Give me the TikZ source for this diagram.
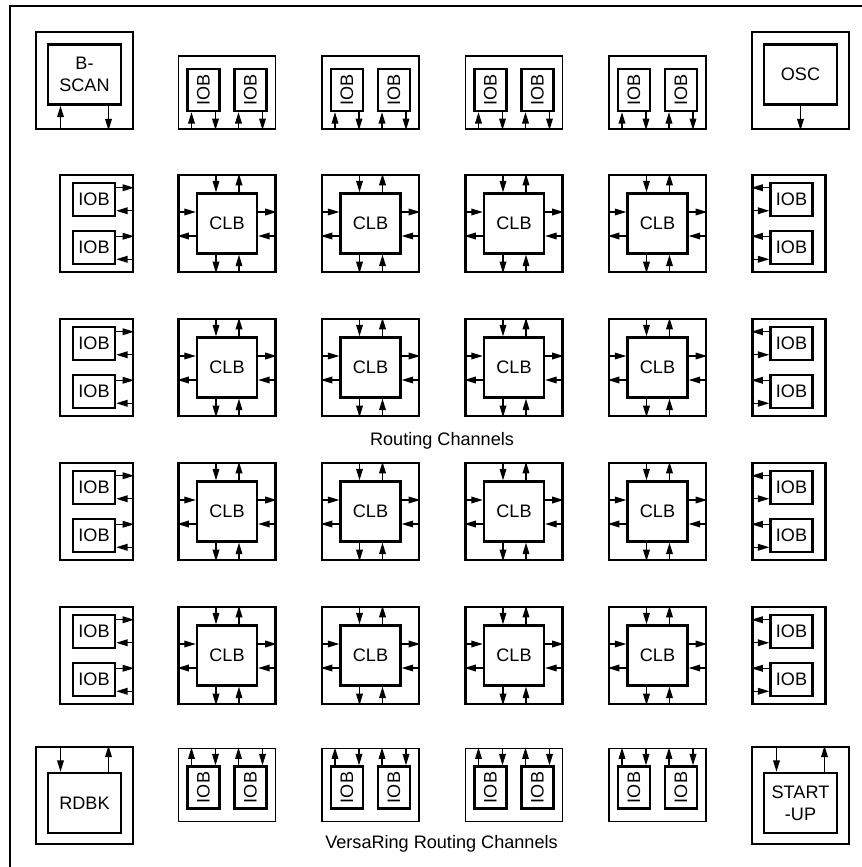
\documentclass[tikz,border=0pt]{standalone}
\usepackage{fontspec}
\setmainfont{Liberation Sans}
\usepackage{graphicx}
\usetikzlibrary{arrows.meta}
\newcommand{\pxu}{0.02cm}

\begin{document}
\begin{tikzpicture}[x=0.02cm,y=-0.02cm,>={Triangle[length=6.5pt,width=3.8pt]},
  line width=0.7pt,font=\fontsize{10.3}{12.3}\selectfont,
  cornerbox/.style={draw,line width=1.5pt,minimum size=1.94cm},
  cornerblk/.style={draw,line width=1.4pt,minimum width=1.46cm,minimum height=1.2cm,inner sep=1pt,align=center},
  clbcell/.style={draw,line width=1.3pt,minimum size=1.94cm},
  clbblk/.style={draw,line width=1.4pt,minimum size=1.2cm},
  sidecell/.style={draw,line width=1.3pt,minimum width=1.46cm,minimum height=1.94cm},
  sideiob/.style={draw,line width=1.3pt,inner sep=0pt,minimum width=0.84cm,minimum height=0.66cm},
  edgecell/.style={draw,line width=1.1pt,minimum width=1.94cm,minimum height=1.46cm},
  edgeiob/.style={draw,line width=1.3pt,inner sep=0pt,minimum width=0.64cm,minimum height=0.84cm}]
  \useasboundingbox (0,0) rectangle (862,867);
  \draw[line width=1.4pt] (862,6) -- (10,6) -- (10,867);

  % corner blocks
  \node[cornerbox] (bscanbox) at (84.5,80.5) {};
  \node[cornerblk] (bscan) at (84.5,74.5) {B-\\SCAN};
  \draw[<-] ([xshift=-24*\pxu]bscan.south) -- ([xshift=-24*\pxu]bscan.south |- bscanbox.south);
  \draw[->] ([xshift=24*\pxu]bscan.south) -- ([xshift=24*\pxu]bscan.south |- bscanbox.south);

  \node[cornerbox] (oscbox) at (800.5,80.5) {};
  \node[cornerblk] (osc) at (800.5,74.5) {OSC};
  \draw[->] (osc) -- (oscbox.south);

  \node[cornerbox] (rdbkbox) at (84.5,795.5) {};
  \node[cornerblk] (rdbk) at (84.5,803) {RDBK};
  \draw[<-] ([xshift=-24*\pxu]rdbk.north) -- ([xshift=-24*\pxu]rdbk.north |- rdbkbox.north);
  \draw[->] ([xshift=24*\pxu]rdbk.north) -- ([xshift=24*\pxu]rdbk.north |- rdbkbox.north);

  \node[cornerbox] (startbox) at (800.5,795.5) {};
  \node[cornerblk] (start) at (800.5,803) {START\\-UP};
  \draw[<-] ([xshift=-24*\pxu]start.north) -- ([xshift=-24*\pxu]start.north |- startbox.north);
  \draw[->] ([xshift=24*\pxu]start.north) -- ([xshift=24*\pxu]start.north |- startbox.north);

  % IOBs along top and bottom
  \foreach \i in {1,...,4} {
    \node[edgecell] (top\i) at ({227+143.5*(\i-1)},92.5) {};
    \node[edgecell] (bot\i) at ({227+143.5*(\i-1)},785) {};
    \foreach \k/\s in {a/-23.5,b/23.5} {
      \node[edgeiob] (top\i\k) at ({227+143.5*(\i-1)+\s},90) {\rotatebox{90}{IOB}};
      \node[edgeiob] (bot\i\k) at ({227+143.5*(\i-1)+\s},787.5) {\rotatebox{90}{IOB}};
      \draw[<-] ([xshift=-12*\pxu]top\i\k.south) -- ([xshift=-12*\pxu]top\i\k.south |- top\i.south);
      \draw[->] ([xshift=12*\pxu]top\i\k.south) -- ([xshift=12*\pxu]top\i\k.south |- top\i.south);
      \draw[->] ([xshift=-12*\pxu]bot\i\k.north) -- ([xshift=-12*\pxu]bot\i\k.north |- bot\i.north);
      \draw[<-] ([xshift=12*\pxu]bot\i\k.north) -- ([xshift=12*\pxu]bot\i\k.north |- bot\i.north);
    }
  }

  % IOBs along left and right, CLB array
  \foreach \j in {1,...,4} {
    \node[sidecell] (lft\j) at (96.5,{223.5+144*(\j-1)}) {};
    \node[sidecell] (rgt\j) at (789,{223.5+144*(\j-1)}) {};
    \foreach \k/\s in {a/-24.25,b/24.25} {
      \node[sideiob] (lft\j\k) at (94,{223.5+144*(\j-1)+\s}) {IOB};
      \node[sideiob] (rgt\j\k) at (791.5,{223.5+144*(\j-1)+\s}) {IOB};
      \draw[->] ([yshift=11.5*\pxu]lft\j\k.east) -- ([yshift=11.5*\pxu]lft\j\k.east -| lft\j.east);
      \draw[<-] ([yshift=-11.5*\pxu]lft\j\k.east) -- ([yshift=-11.5*\pxu]lft\j\k.east -| lft\j.east);
      \draw[->] ([yshift=11.5*\pxu]rgt\j\k.west) -- ([yshift=11.5*\pxu]rgt\j\k.west -| rgt\j.west);
      \draw[<-] ([yshift=-11.5*\pxu]rgt\j\k.west) -- ([yshift=-11.5*\pxu]rgt\j\k.west -| rgt\j.west);
    }
    \foreach \i in {1,...,4} {
      \node[clbcell] (cell\i\j) at ({227+143.5*(\i-1)},{223.5+144*(\j-1)}) {};
      \node[clbblk] (clb\i\j) at (cell\i\j) {CLB};
      \draw[<-] ([xshift=-11*\pxu]clb\i\j.north) -- ([xshift=-11*\pxu]clb\i\j.north |- cell\i\j.north);
      \draw[->] ([xshift=12*\pxu]clb\i\j.north) -- ([xshift=12*\pxu]clb\i\j.north |- cell\i\j.north);
      \draw[->] ([xshift=-11*\pxu]clb\i\j.south) -- ([xshift=-11*\pxu]clb\i\j.south |- cell\i\j.south);
      \draw[<-] ([xshift=12*\pxu]clb\i\j.south) -- ([xshift=12*\pxu]clb\i\j.south |- cell\i\j.south);
      \draw[<-] ([yshift=11.5*\pxu]clb\i\j.west) -- ([yshift=11.5*\pxu]clb\i\j.west -| cell\i\j.west);
      \draw[->] ([yshift=-12.5*\pxu]clb\i\j.west) -- ([yshift=-12.5*\pxu]clb\i\j.west -| cell\i\j.west);
      \draw[->] ([yshift=11.5*\pxu]clb\i\j.east) -- ([yshift=11.5*\pxu]clb\i\j.east -| cell\i\j.east);
      \draw[<-] ([yshift=-12.5*\pxu]clb\i\j.east) -- ([yshift=-12.5*\pxu]clb\i\j.east -| cell\i\j.east);
    }
  }

  \node (routing) at (442,441) {Routing Channels};
  \node (versaring) at (441.5,844) {VersaRing Routing Channels};
\end{tikzpicture}
\end{document}
